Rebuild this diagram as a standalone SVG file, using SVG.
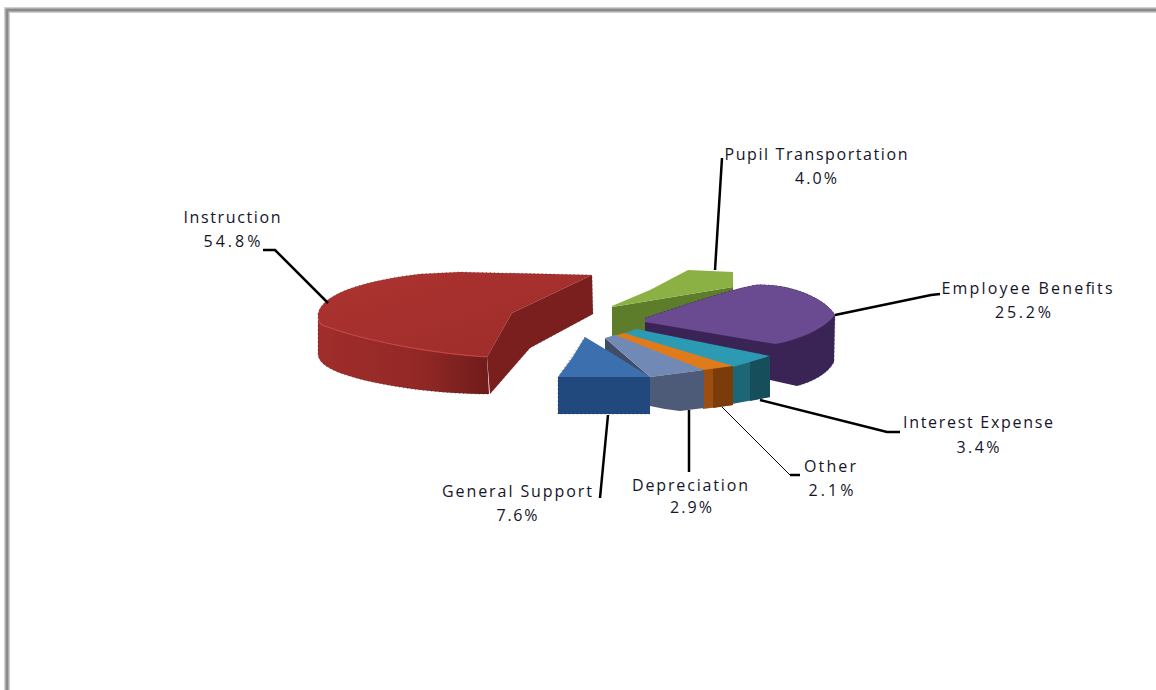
<svg xmlns="http://www.w3.org/2000/svg" width="1156" height="690" viewBox="0 0 1156 690">
<defs>
<style>
.lbl{font-family:"Open Sans","Liberation Sans",sans-serif;font-size:16px;fill:#15152a;text-anchor:middle;}
.ld{fill:none;stroke:#000;stroke-width:2.5;stroke-linejoin:miter;}
.thin{fill:none;stroke:#000;stroke-width:1;}
.dot{fill:none;stroke:#222;stroke-width:1;stroke-dasharray:1 3;opacity:0.55;}
</style>
<linearGradient id="redWall" x1="0" y1="0" x2="1" y2="0">
<stop offset="0" stop-color="#a02d2a"/><stop offset="0.6" stop-color="#922826"/><stop offset="1" stop-color="#6f1c1b"/>
</linearGradient>
<linearGradient id="redTop" x1="0" y1="0" x2="1" y2="1">
<stop offset="0" stop-color="#ad3330"/><stop offset="1" stop-color="#9c2c29"/>
</linearGradient>
</defs>
<rect width="1156" height="690" fill="#fff"/>
<path d="M7,690 V10 H1156" fill="none" stroke="#d0d0d0" stroke-width="6"/>
<path d="M7,690 V10 H1156" fill="none" stroke="#8a8a8a" stroke-width="3"/>

<g id="slice-instruction">
<path d="M318,314 C318,318 318,322 322,325 C370,343 440,354 487,357 L489,394 C440,394 380,387 340,373 C325,367 318,361 318,354 Z" fill="url(#redWall)"/>
<path d="M318,314 C322,292 370,280 420,274 L460,272 L592,275 L512,313 L487,357 C440,354 370,343 322,325 C318,322 318,318 318,314 Z" fill="url(#redTop)"/>
<path d="M592,275 L593,314 L530,348 L490,394 L487,357 L512,313 Z" fill="#7a1f1e"/>
<path d="M322,325 C370,343 440,354 487,357" fill="none" stroke="#c24442" stroke-width="1.2"/>
<path class="dot" d="M318,314 C322,292 370,280 420,274 L460,272 L592,275 L593,314 L530,348 L490,394 C440,394 380,387 340,373 C325,367 318,361 318,354 Z"/>
</g>

<g id="slice-pupil-transportation">
<path d="M612,307 L733,287 L733,330 L612,336 Z" fill="#5e7d2b"/>
<path d="M612,306 L650,290 L688,270 L733,272 L733,287 L612,307 Z" fill="#8bb044"/>
</g>

<g id="slice-employee-benefits">
<path d="M645,318 C670,310 720,292 755,285 C790,283 825,298 835,315 L834,362 C828,374 812,382 797,386 L770,380 L770,358 L645,333 Z" fill="#3a2455"/>
<path d="M645,318 C670,310 720,292 755,285 C790,283 825,298 835,315 C825,328 800,340 775,344 L645,322 Z" fill="#6a4a90"/>
<path class="dot" d="M645,318 C670,310 720,292 755,285 C790,283 825,298 835,315 L834,362 C828,374 812,382 797,386"/>
</g>

<g id="slice-interest-expense">
<path d="M622,334 L636,329 L770,356 L733,367 Z" fill="#2c9ab3"/>
<path d="M732,367 L770,356 L770,397 L732,404 Z" fill="#1c6675"/>
<path d="M750,362 L770,356 L770,397 L750,401 Z" fill="#164f5b"/>
</g>

<g id="slice-other">
<path d="M614,336 L624,333 L733,366 L703,371 Z" fill="#e07b1c"/>
<path d="M703,370 L733,366 L733,405 L703,409 Z" fill="#9c4e10"/>
<path d="M713,369 L733,366 L733,405 L713,408 Z" fill="#7b3b0b"/>
</g>

<g id="slice-depreciation">
<path d="M605,338 L650,377 L650,404 L605,352 Z" fill="#404d69"/>
<path d="M605,338 L615,335 L704,370 L650,377 Z" fill="#7189b5"/>
<path d="M650,377 L704,370 L704,408 L680,411 L665,409 L650,406 Z" fill="#4d5b78"/>
</g>

<g id="slice-general-support">
<path d="M558,377 L650,377 L650,414 L558,414 Z" fill="#22497e"/>
<path d="M585,337 L605,349 L650,377 L558,377 L572,358 Z" fill="#3b6fad"/>
<path class="dot" d="M585,337 L558,377 L558,414 L650,414"/>
</g>

<g id="connectors">
<path class="ld" d="M263,250 L275,250 L328,303"/>
<path class="ld" d="M722,158 L715,270"/>
<path class="ld" d="M940,294 L931,295 L835,315"/>
<path class="ld" d="M900,432 L887,432 L760,400"/>
<path class="thin" d="M722,407 L790,475"/>
<path class="ld" d="M790,475 L800,475" stroke-width="3"/>
<path class="ld" d="M689,410 L689,472"/>
<path class="ld" d="M608,415 L600,498"/>
</g>

<g id="label-instruction">
<text class="lbl" x="232" y="223" textLength="97" lengthAdjust="spacing">Instruction</text>
<text class="lbl" x="232" y="247" textLength="57" lengthAdjust="spacing">54.8%</text>
</g>
<g id="label-pupil-transportation">
<text class="lbl" x="816" y="160" textLength="183" lengthAdjust="spacing">Pupil Transportation</text>
<text class="lbl" x="816" y="184" textLength="42" lengthAdjust="spacing">4.0%</text>
</g>
<g id="label-employee-benefits">
<text class="lbl" x="1027" y="294" textLength="171" lengthAdjust="spacing">Employee Benefits</text>
<text class="lbl" x="1023" y="318" textLength="56" lengthAdjust="spacing">25.2%</text>
</g>
<g id="label-interest-expense">
<text class="lbl" x="978" y="428" textLength="150" lengthAdjust="spacing">Interest Expense</text>
<text class="lbl" x="978" y="453" textLength="43" lengthAdjust="spacing">3.4%</text>
</g>
<g id="label-other">
<text class="lbl" x="830" y="472" textLength="52" lengthAdjust="spacing">Other</text>
<text class="lbl" x="831" y="496" textLength="45" lengthAdjust="spacing">2.1%</text>
</g>
<g id="label-depreciation">
<text class="lbl" x="690" y="491" textLength="116" lengthAdjust="spacing">Depreciation</text>
<text class="lbl" x="691" y="513" textLength="42" lengthAdjust="spacing">2.9%</text>
</g>
<g id="label-general-support">
<text class="lbl" x="517" y="497" textLength="150" lengthAdjust="spacing">General Support</text>
<text class="lbl" x="517" y="521" textLength="41" lengthAdjust="spacing">7.6%</text>
</g>
</svg>
